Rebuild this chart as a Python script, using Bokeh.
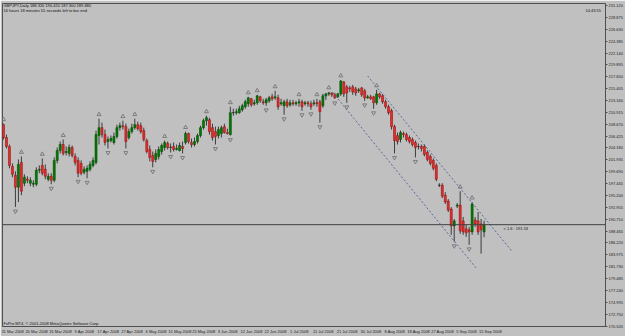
from bokeh.plotting import figure
from bokeh.models import Range1d, FixedTicker, LinearAxis, Span, Label, PrintfTickFormatter, ColumnDataSource
from bokeh.embed import file_html
from bokeh.resources import INLINE

symbol = "GBPJPY,Daily"

opens = [208.59, 206.16, 204.47, 200.71, 199.02, 196.77, 201.46, 197.52, 198.27, 197.52,
         197.33, 197.33, 199.96, 200.89, 200.15, 198.27, 198.84, 198.08, 201.83, 203.71,
         204.84, 203.34, 203.15, 204.28, 202.59, 201.83, 201.27, 199.59, 199.77, 200.15,
         200.89, 201.46, 206.53, 208.03, 206.72, 205.40, 205.59, 205.22, 206.34, 208.03,
         208.40, 208.22, 206.16, 207.28, 208.03, 208.59, 208.40, 207.47, 205.59, 203.90,
         202.77, 202.02, 202.59, 203.52, 204.28, 205.03, 204.28, 204.47, 203.90, 203.71,
         204.47, 205.22, 206.91, 205.22, 204.84, 205.40, 206.53, 208.03, 209.34, 209.53,
         208.03, 207.28, 206.53, 206.91, 208.22, 207.09, 206.72, 210.85, 210.85, 210.85,
         211.41, 211.98, 212.54, 213.48, 212.54, 212.73, 213.85, 212.91, 212.73, 213.10,
         213.85, 213.66, 213.66, 212.54, 212.16, 212.91, 212.35, 212.73, 212.54, 212.73,
         212.91, 212.54, 212.73, 212.54, 212.54, 212.73, 212.91, 212.16, 214.04, 214.41,
         214.60, 214.23, 213.85, 214.41, 216.67, 215.73, 215.54, 215.73, 215.35, 214.98,
         215.54, 214.98, 213.66, 213.85, 213.85, 212.73, 214.41, 214.04, 212.91, 211.98,
         211.23, 208.22, 206.53, 205.78, 206.91, 206.72, 206.16, 205.78, 205.22, 204.47,
         204.47, 204.47, 203.34, 202.59, 201.83, 200.89, 197.14, 197.14, 195.26, 194.14,
         192.64, 189.45, 193.21, 193.39, 190.39, 188.89, 188.70, 188.32, 190.57, 190.39,
         189.82, 188.32]
highs = [208.78, 206.72, 204.84, 201.27, 199.77, 202.02, 202.59, 199.21, 198.84, 198.65,
         198.08, 200.52, 200.89, 202.21, 201.08, 199.40, 199.40, 202.40, 204.28, 205.40,
         205.78, 204.47, 204.84, 204.65, 203.15, 202.40, 201.83, 200.71, 200.89, 201.65,
         202.40, 207.47, 209.72, 208.97, 207.66, 206.34, 206.53, 207.09, 208.59, 208.97,
         209.34, 208.78, 207.84, 208.78, 209.72, 209.15, 208.97, 208.03, 205.97, 204.65,
         203.52, 203.90, 204.47, 205.03, 205.59, 205.40, 205.03, 205.22, 204.84, 205.22,
         205.40, 207.28, 207.09, 205.97, 206.16, 206.91, 208.40, 209.72, 210.28, 209.91,
         208.78, 208.22, 208.22, 208.40, 208.78, 207.84, 211.98, 211.60, 211.60, 212.16,
         212.54, 213.29, 213.85, 213.66, 213.29, 214.23, 214.04, 213.48, 213.66, 214.04,
         214.41, 214.98, 214.23, 213.48, 213.29, 213.48, 213.29, 213.29, 213.10, 213.48,
         213.29, 213.10, 213.10, 213.10, 213.29, 213.48, 213.29, 214.41, 214.60, 214.79,
         214.68, 214.60, 214.60, 217.04, 216.85, 216.10, 215.92, 216.10, 215.73, 215.54,
         215.73, 215.35, 214.23, 214.23, 214.04, 215.17, 214.60, 214.41, 213.29, 212.35,
         211.60, 208.59, 207.09, 207.47, 207.28, 207.09, 206.53, 206.16, 205.59, 205.03,
         204.84, 204.84, 203.71, 202.96, 202.21, 201.27, 197.52, 197.52, 195.83, 194.52,
         193.02, 190.76, 193.77, 196.01, 191.14, 189.64, 189.26, 193.96, 191.14, 192.08,
         190.76, 190.42]
lows = [205.78, 204.09, 200.33, 198.65, 193.02, 193.96, 195.26, 196.96, 197.52, 196.96,
        196.77, 196.96, 199.40, 199.02, 198.27, 197.89, 197.33, 197.71, 201.27, 203.15,
        202.77, 202.77, 202.59, 202.40, 200.89, 198.65, 199.02, 199.21, 198.46, 199.77,
        200.52, 201.08, 204.84, 206.16, 204.65, 204.09, 205.22, 204.84, 205.97, 207.47,
        207.66, 204.09, 205.78, 206.91, 207.66, 207.47, 206.91, 205.40, 203.15, 201.65,
        200.52, 201.46, 202.02, 202.96, 203.71, 203.90, 203.34, 203.52, 203.71, 203.52,
        203.15, 204.84, 205.03, 204.28, 204.47, 205.03, 206.16, 207.66, 208.40, 206.72,
        205.59, 204.84, 205.97, 206.16, 206.91, 206.72, 206.53, 210.28, 210.47, 210.66,
        211.04, 211.60, 211.98, 211.98, 212.16, 212.35, 212.73, 212.35, 212.16, 212.73,
        213.10, 213.29, 211.41, 212.16, 210.47, 211.79, 211.98, 212.16, 212.16, 211.98,
        211.23, 212.16, 211.98, 211.41, 212.16, 211.98, 208.97, 211.79, 213.29, 214.04,
        213.85, 213.48, 213.66, 214.04, 213.85, 212.73, 214.79, 214.23, 214.04, 214.60,
        213.85, 213.10, 213.48, 213.29, 211.60, 212.35, 213.48, 212.54, 211.60, 210.47,
        207.66, 203.15, 204.84, 205.22, 206.16, 205.40, 205.03, 204.47, 202.40, 203.90,
        203.52, 202.59, 201.65, 200.89, 199.96, 197.89, 196.77, 194.71, 193.58, 192.08,
        187.76, 186.45, 192.83, 187.95, 187.76, 187.39, 185.88, 187.76, 189.26, 187.76,
        184.19, 187.30]
closes = [206.16, 204.47, 200.89, 199.21, 196.77, 201.08, 196.01, 198.65, 198.08, 198.08,
          197.52, 199.96, 200.15, 199.40, 198.84, 198.84, 198.08, 201.83, 203.71, 204.84,
          203.15, 203.52, 204.28, 202.77, 201.46, 199.40, 199.40, 200.15, 200.33, 201.08,
          201.83, 206.72, 208.03, 206.72, 205.22, 205.78, 205.97, 206.34, 208.03, 208.40,
          208.22, 205.40, 207.28, 208.03, 208.59, 207.84, 207.28, 205.78, 203.52, 202.40,
          201.65, 203.15, 203.90, 204.65, 205.22, 204.28, 204.30, 203.90, 204.09, 204.65,
          204.09, 206.91, 205.40, 204.84, 205.40, 206.53, 208.03, 209.34, 209.91, 207.28,
          206.16, 206.34, 207.66, 208.03, 207.09, 206.91, 210.85, 210.87, 211.04, 211.60,
          212.16, 212.91, 213.66, 212.35, 212.73, 214.04, 213.10, 212.73, 213.29, 213.66,
          213.48, 213.85, 211.98, 212.73, 212.91, 212.16, 212.73, 212.54, 212.73, 212.91,
          211.98, 212.73, 212.54, 211.98, 212.73, 212.54, 211.04, 214.04, 214.41, 214.60,
          214.23, 213.66, 214.41, 216.85, 214.41, 214.60, 215.35, 214.79, 214.60, 215.17,
          214.23, 213.66, 213.85, 213.48, 212.73, 214.41, 213.85, 212.91, 211.98, 210.85,
          208.22, 205.59, 205.40, 207.09, 206.72, 205.78, 205.40, 204.84, 204.28, 204.45,
          204.09, 202.96, 202.02, 201.27, 200.33, 198.27, 197.12, 195.08, 193.96, 192.45,
          189.45, 190.39, 193.39, 188.51, 188.32, 188.14, 188.32, 193.58, 189.82, 188.32,
          188.70, 189.68]

fractal_up_bars = [0, 6, 13, 20, 32, 40, 44, 54, 61, 68, 76, 82, 85, 91, 99, 105, 109, 113, 125, 153, 157]
fractal_down_bars = [4, 16, 25, 28, 35, 41, 50, 56, 60, 71, 76, 88, 94, 100, 103, 106, 111, 115, 121, 124, 131, 138, 151, 156]

date_tick_bars = list(range(0, 161, 8))
date_tick_labels = ["11 Mar 2008", "20 Mar 2008", "31 Mar 2008", "9 Apr 2008", "17 Apr 2008",
                    "27 Apr 2008", "6 May 2008", "15 May 2008", "25 May 2008", "3 Jun 2008",
                    "12 Jun 2008", "22 Jun 2008", "1 Jul 2008", "11 Jul 2008", "21 Jul 2008",
                    "30 Jul 2008", "8 Aug 2008", "18 Aug 2008", "27 Aug 2008", "5 Sep 2008",
                    "15 Sep 2008"]

price_ticks = [231.120, 228.875, 226.630, 224.385, 222.140, 219.895, 217.650, 215.405,
               213.160, 210.915, 208.670, 206.425, 204.180, 201.935, 199.690, 197.445,
               195.200, 192.955, 190.710, 188.465, 186.220, 183.975, 181.730, 179.485,
               177.240, 174.995, 172.750, 170.505]

channel_upper_x = [122.0, 170.2]
channel_upper_y = [217.79, 184.76]
channel_lower_x = [110.4, 158.5]
channel_lower_y = [214.60, 181.38]

timeleft_text = "16 hours 18 minutes 55 seconds left to bar end"
clock_text = "14:43:55"
level_text = "< 1.6 : 191.53"
copyright_text = "FxPro MT4, \u00a9 2001-2008 MetaQuotes Software Corp."

# ---- layout constants ----
W, H = 625, 336
PX_PER_BAR = 2.99
X0 = -0.33
FRAME_W = 604
BG = "#c0c0c0"
FRAME_C = "#505050"
FONT = "Liberation Sans"
LABEL_SHIFT = 3.1   # axis labels are centred by Bokeh; shift so they start at their bar

p = figure(width=W, height=H, output_backend="svg", toolbar_location=None,
           x_range=Range1d(X0, X0 + FRAME_W / PX_PER_BAR),
           y_range=Range1d(170.43, 231.50),
           x_axis_location=None, y_axis_location=None,
           min_border_left=2, min_border_right=14, min_border_top=3, min_border_bottom=8,
           background_fill_color=BG, border_fill_color=BG,
           outline_line_color=FRAME_C, outline_line_width=1)
p.xgrid.visible = False
p.ygrid.visible = False

yaxis = LinearAxis(ticker=FixedTicker(ticks=price_ticks),
                   formatter=PrintfTickFormatter(format="%.3f"),
                   major_label_text_font_size="4px", major_label_text_font=FONT,
                   major_label_text_color="#202020",
                   major_tick_in=0, major_tick_out=2, minor_tick_line_color=None,
                   major_label_standoff=1, axis_line_color=FRAME_C,
                   major_tick_line_color=FRAME_C)
p.add_layout(yaxis, "right")

shifted = [b + LABEL_SHIFT for b in date_tick_bars]
xaxis = LinearAxis(ticker=FixedTicker(ticks=shifted),
                   major_label_overrides={s: t for s, t in zip(shifted, date_tick_labels)},
                   major_label_text_font_size="4px", major_label_text_font=FONT,
                   major_label_text_color="#202020",
                   major_tick_in=0, major_tick_out=0, minor_tick_line_color=None,
                   major_label_standoff=2, axis_line_color=FRAME_C,
                   major_tick_line_color=None)
p.add_layout(xaxis, "below")

idx = list(range(len(opens)))
bull = [i for i in idx if closes[i] - opens[i] > 0.05]
bear = [i for i in idx if opens[i] - closes[i] > 0.05]
doji = [i for i in idx if abs(closes[i] - opens[i]) <= 0.05]

p.segment(x0=idx, y0=lows, x1=idx, y1=highs, line_color="#3c3c3c", line_width=1)

def body(sel, fill, line):
    src = ColumnDataSource(dict(x=sel,
                                top=[max(opens[i], closes[i]) for i in sel],
                                bottom=[min(opens[i], closes[i]) for i in sel]))
    p.vbar(x="x", top="top", bottom="bottom", width=0.67, source=src,
           fill_color=fill, line_color=line, line_width=0.6)

body(bull, "#007a00", "#005000")
body(bear, "#e03030", "#a01010")
body(doji, "#202020", "#202020")

# channel
p.line(channel_upper_x, channel_upper_y, line_color="#5868a0", line_dash="2 2", line_width=1)
p.line(channel_lower_x, channel_lower_y, line_color="#5868a0", line_dash="2 2", line_width=1)

# fractals
ARROW_OFF = 0.8
p.scatter([b for b in fractal_up_bars], [highs[b] + ARROW_OFF for b in fractal_up_bars],
          marker="triangle", size=4, fill_color=None, line_color="#7c7c7c", line_width=1)
p.scatter([b for b in fractal_down_bars], [lows[b] - ARROW_OFF for b in fractal_down_bars],
          marker="inverted_triangle", size=4, fill_color=None, line_color="#7c7c7c", line_width=1)

# bid line
last = closes[-1]
p.add_layout(Span(location=last, dimension="width", line_color="#404040", line_width=1))

title_text = f"{symbol}  {opens[-1]:.3f} {highs[-1]:.3f} {lows[-1]:.3f} {closes[-1]:.3f}"
FRAME_H = 325
txt = dict(text_font=FONT, text_font_size="4px", text_color="#101010")
p.add_layout(Label(x=1, y=FRAME_H - 1, x_units="screen", y_units="screen", text=title_text,
                   text_baseline="top", **txt))
p.add_layout(Label(x=1, y=FRAME_H - 6, x_units="screen", y_units="screen", text=timeleft_text,
                   text_baseline="top", **txt))
p.add_layout(Label(x=583, y=FRAME_H - 6, x_units="screen", y_units="screen", text=clock_text,
                   text_baseline="top", **txt))
p.add_layout(Label(x=1, y=1, x_units="screen", y_units="screen", text=copyright_text,
                   text_baseline="bottom", **txt))
p.add_layout(Label(x=501, y=last, x_units="screen", y_units="data", text=level_text,
                   text_baseline="top", y_offset=-1, **txt))
p.add_layout(Label(x=FRAME_W + 1, y=last, x_units="screen", y_units="data", text=f"{last:.3f}",
                   text_baseline="middle", text_font=FONT, text_font_size="4px",
                   text_color="#ffffff", background_fill_color="#000000"))

open("out.html", "w").write(file_html(p, INLINE))
